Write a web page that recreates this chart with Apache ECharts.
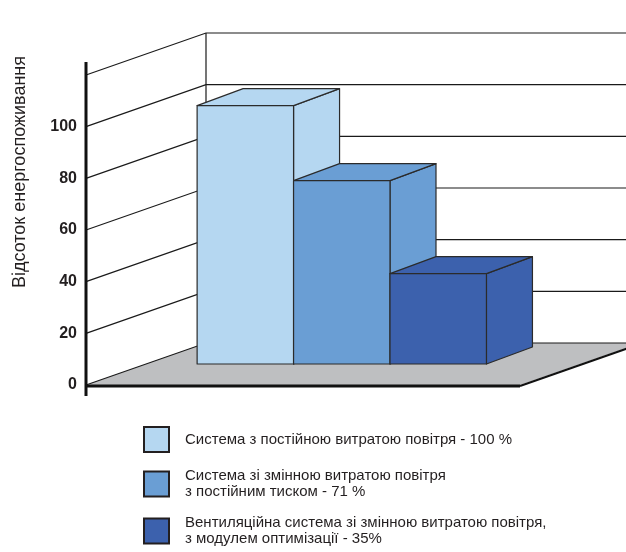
<!DOCTYPE html>
<html lang="uk">
<head>
    <meta charset="UTF-8">
    <title>Відсоток енергоспоживання</title>
    <script src="https://cdn.jsdelivr.net/npm/echarts@6/dist/echarts.min.js"></script>
    <style>
        html, body { margin: 0; padding: 0; background: #fff; }
        #chart { width: 626px; height: 552px; }
    </style>
</head>
<body>
    <div id="chart"></div>

    <script>
        // Data
        const seriesNames = [
            'Система з постійною витратою повітря - 100 %',
            'Система зі змінною витратою повітря\nз постійним тиском - 71 %',
            'Вентиляційна система зі змінною витратою повітря,\nз модулем оптимізації - 35%'
        ];
        const values = [100, 71, 35];
        const barPositions = [1, 2, 3];
        const yTicks = [0, 20, 40, 60, 80, 100, 120];
        const yLabels = ['0', '20', '40', '60', '80', '100', ''];

        const frontColors = ['#b5d7f1', '#6a9ed4', '#3c61ad'];
        const X_MIN = -0.03, X_MAX = 4.47;

        // depth offsets (px)
        const WALL_DX = 120, WALL_DY = -42;   // floor / back wall depth
        const BAR_DX = 60, BAR_DY = -21;      // bar front face depth
        const BAR_DEPTH_DX = 46, BAR_DEPTH_DY = -17;

        const chart = echarts.init(document.getElementById('chart'));
        const FONT = "'Liberation Sans', 'DejaVu Sans', sans-serif";

        // floor, walls and gridlines
        function renderFrame(params, api) {
            const children = [];
            const y0 = yTicks[0], yTop = yTicks[yTicks.length - 1];
            const a = api.coord([X_MIN, y0]);
            const b = api.coord([X_MAX, y0]);
            children.push({
                type: 'polygon',
                shape: { points: [a, b, [b[0] + WALL_DX, b[1] + WALL_DY], [a[0] + WALL_DX, a[1] + WALL_DY]] },
                style: { fill: '#bebfc1', stroke: null }
            });
            yTicks.forEach(function (t) {
                const p = api.coord([X_MIN, t]);
                const q = api.coord([X_MAX, t]);
                children.push({
                    type: 'polyline',
                    shape: { points: [p, [p[0] + WALL_DX, p[1] + WALL_DY], [q[0] + WALL_DX, q[1] + WALL_DY]] },
                    style: { stroke: '#1a1a1a', lineWidth: 1.2, fill: null }
                });
            });
            const bw0 = api.coord([X_MIN, y0]);
            const bw1 = api.coord([X_MIN, yTop]);
            children.push({
                type: 'line',
                shape: { x1: bw0[0] + WALL_DX, y1: bw0[1] + WALL_DY, x2: bw1[0] + WALL_DX, y2: bw1[1] + WALL_DY },
                style: { stroke: '#1a1a1a', lineWidth: 1.2 }
            });
            // floor right edge
            children.push({
                type: 'line',
                shape: { x1: b[0], y1: b[1] + 1, x2: b[0] + WALL_DX, y2: b[1] + WALL_DY + 1 },
                style: { stroke: '#111', lineWidth: 2 }
            });
            return { type: 'group', children: children };
        }

        // front axis lines drawn above bars
        function renderFrontAxes(params, api) {
            const a = api.coord([X_MIN, yTicks[0]]);
            const b = api.coord([X_MAX, yTicks[0]]);
            const t = api.coord([X_MIN, yTicks[yTicks.length - 1]]);
            return {
                type: 'group',
                children: [
                    { type: 'line', shape: { x1: a[0], y1: a[1] + 1, x2: b[0], y2: b[1] + 1 }, style: { stroke: '#111', lineWidth: 3 } },
                    { type: 'line', shape: { x1: a[0], y1: a[1] + 11, x2: t[0], y2: t[1] - 13 }, style: { stroke: '#111', lineWidth: 3 } }
                ]
            };
        }

        function renderBar(params, api) {
            const x = api.value(0), v = api.value(1);
            const color = api.visual('color');
            const lo = api.coord([x - 0.5, 0]);
            const hi = api.coord([x + 0.5, v]);
            const x0 = lo[0] + BAR_DX, x1 = hi[0] + BAR_DX;
            const yb = lo[1] + BAR_DY, yt = hi[1] + BAR_DY;
            const dx = BAR_DEPTH_DX, dy = BAR_DEPTH_DY;
            const edge = { stroke: '#2b2b2b', lineWidth: 1.2, lineJoin: 'round' };
            return {
                type: 'group',
                children: [
                    { type: 'polygon', shape: { points: [[x1, yt], [x1 + dx, yt + dy], [x1 + dx, yb + dy], [x1, yb]] },
                      style: Object.assign({ fill: color }, edge) },
                    { type: 'polygon', shape: { points: [[x0, yt], [x1, yt], [x1 + dx, yt + dy], [x0 + dx, yt + dy]] },
                      style: Object.assign({ fill: color }, edge) },
                    { type: 'rect', shape: { x: x0, y: yt, width: x1 - x0, height: yb - yt },
                      style: Object.assign({ fill: color }, edge) }
                ]
            };
        }

        const barSeries = seriesNames.map(function (name, i) {
            return {
                name: name,
                type: 'custom',
                coordinateSystem: 'cartesian2d',
                renderItem: renderBar,
                clip: false,
                z: 3,
                itemStyle: { color: frontColors[i] },
                data: [[barPositions[i], values[i]]]
            };
        });

        const option = {
            animation: false,
            textStyle: { fontFamily: FONT },
            grid: { left: 86, right: 106, top: 75, bottom: 167 },
            xAxis: { type: 'value', min: X_MIN, max: X_MAX, show: false },
            yAxis: {
                type: 'value',
                min: 0,
                max: 120,
                interval: 20,
                axisLine: { show: false },
                axisTick: { show: false },
                splitLine: { show: false },
                axisLabel: {
                    margin: 9,
                    color: '#231f20',
                    fontSize: 16,
                    fontWeight: 'bold',
                    fontFamily: FONT,
                    padding: [8, 0, 0, 0],
                    formatter: function (v) { return yLabels[yTicks.indexOf(v)]; }
                }
            },
            legend: {
                orient: 'vertical',
                left: 143,
                top: 426,
                height: 130,
                padding: 0,
                itemWidth: 25,
                itemHeight: 25,
                itemGap: 15,
                selectedMode: false,
                textStyle: {
                    fontFamily: FONT,
                    fontSize: 15,
                    lineHeight: 16,
                    color: '#231f20',
                    padding: [0, 0, 0, 11]
                },
                data: seriesNames.map(function (name, i) {
                    return {
                        name: name,
                        icon: 'rect',
                        itemStyle: { color: frontColors[i], borderColor: '#231f20', borderWidth: 2 }
                    };
                })
            },
            graphic: [{
                type: 'text',
                x: 20,
                y: 172,
                rotation: Math.PI / 2,
                style: {
                    text: 'Відсоток енергоспоживання',
                    fontFamily: FONT,
                    fontSize: 18,
                    fill: '#231f20',
                    align: 'center',
                    verticalAlign: 'middle'
                }
            }],
            series: [
                {
                    name: 'frame',
                    type: 'custom',
                    coordinateSystem: 'cartesian2d',
                    renderItem: renderFrame,
                    clip: false,
                    silent: true,
                    z: 1,
                    data: [[0, 0]]
                }
            ].concat(barSeries).concat([
                {
                    name: 'axes',
                    type: 'custom',
                    coordinateSystem: 'cartesian2d',
                    renderItem: renderFrontAxes,
                    clip: false,
                    silent: true,
                    z: 5,
                    data: [[0, 0]]
                }
            ])
        };

        chart.setOption(option);
    </script>
</body>
</html>
